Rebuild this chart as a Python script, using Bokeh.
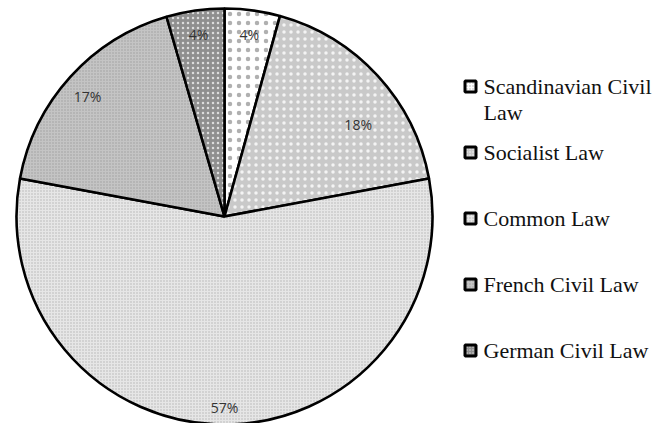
import math
from bokeh.plotting import figure
from bokeh.models import Range1d, ColumnDataSource
from bokeh.core.properties import value
from bokeh.embed import file_html
from bokeh.resources import INLINE

# ---- data ----
categories = ["Scandinavian Civil Law", "Socialist Law", "Common Law",
              "French Civil Law", "German Civil Law"]
shares = [4.3, 17.8, 55.9, 17.6, 4.5]          # slice sizes
pct_labels = ["4%", "18%", "57%", "17%", "4%"]  # data labels printed on the chart

# ---- styles ----
fills = ["#ffffff", "#c9c9c9", "#e6e6e6", "#c4c4c4", "#8f8f8f"]
hatch_colors = ["#b0b0b0", "#f4f4f4", "#b4b4b4", "#9c9c9c", "#dcdcdc"]
hatch_scales = [9, 7, 3, 3, 5]
hatch_weights = [1.2, 1.6, 1.0, 1.0, 1.3]
label_r = [0.885, 0.78, 0.92, 0.875, 0.885]
label_shift = [0, -8, 0, 1, 0]

R = 208
W, H = 657, 423
cx_px, cy_px = 224, 216

p = figure(width=W, height=H, output_backend="svg", toolbar_location=None,
           x_range=Range1d(-cx_px, W - cx_px), y_range=Range1d(-(H - cy_px), cy_px),
           x_axis_location=None, y_axis_location=None, min_border=0,
           background_fill_color="white", border_fill_color="white")
p.outline_line_color = None
p.grid.visible = False

total = sum(shares)
starts, ends, lx, ly = [], [], [], []
acc = 0.0
for i, s in enumerate(shares):
    a0 = math.pi / 2 - 2 * math.pi * acc / total
    acc += s
    a1 = math.pi / 2 - 2 * math.pi * acc / total
    starts.append(a0)
    ends.append(a1)
    mid = (a0 + a1) / 2 + math.radians(label_shift[i])
    lx.append(R * label_r[i] * math.cos(mid))
    ly.append(R * label_r[i] * math.sin(mid))

src = ColumnDataSource(dict(start=starts, end=ends, fill=fills, hc=hatch_colors,
                            hs=hatch_scales, hw=hatch_weights, cat=categories))
p.wedge(x=0, y=0, radius=R, start_angle="start", end_angle="end", direction="clock",
        source=src, fill_color="fill", line_color="black", line_width=2.6,
        hatch_pattern="dot", hatch_color="hc", hatch_scale="hs", hatch_weight="hw")

p.text(x=lx, y=ly, text=pct_labels, text_font=value("Open Sans"),
       text_font_size="14px", text_color="#333333",
       text_align="center", text_baseline="middle")

# ---- legend (drawn manually) ----
leg_x_marker = 470 - cx_px
leg_x_text = 483 - cx_px
leg_y0 = cy_px - 86
leg_step = 66
disp = ["Scandinavian Civil\nLaw" if c == "Scandinavian Civil Law" else c for c in categories]
my = [leg_y0 - k * leg_step for k in range(len(categories))]
p.rect(x=[leg_x_marker] * len(categories), y=my, width=11, height=11,
       width_units="screen", height_units="screen",
       fill_color=fills, line_color="black", line_width=3,
       hatch_pattern="dot", hatch_color=hatch_colors, hatch_scale=3, hatch_weight=1)
p.text(x=[leg_x_text] * len(categories), y=[v + 13 for v in my], text=disp,
       text_font=value("Liberation Serif"), text_font_size="22px",
       text_color="#111111", text_align="left", text_baseline="top",
       text_line_height=1.05)

open("out.html", "w").write(file_html(p, INLINE))
